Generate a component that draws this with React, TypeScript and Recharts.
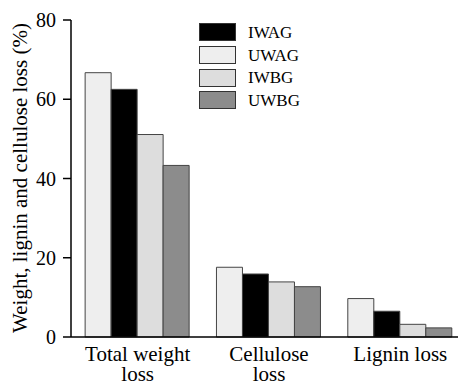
import { Bar, BarChart, Legend, XAxis, YAxis } from "recharts";

const categories = ["Total weight\nloss", "Cellulose\nloss", "Lignin loss"];
const uwag = [66.7, 17.6, 9.7];
const iwag = [62.5, 15.9, 6.5];
const iwbg = [51.1, 13.9, 3.2];
const uwbg = [43.3, 12.7, 2.3];
const yTicks = [0, 20, 40, 60, 80];

const legendItems = [
  { name: "IWAG", color: "#000000" },
  { name: "UWAG", color: "#eeeeee" },
  { name: "IWBG", color: "#dddddd" },
  { name: "UWBG", color: "#8c8c8c" },
];

const data = categories.map((name, i) => ({
  name,
  UWAG: uwag[i],
  IWAG: iwag[i],
  IWBG: iwbg[i],
  UWBG: uwbg[i],
}));

const font = "Liberation Serif, Times New Roman, serif";

function CategoryTick({ x, y, payload }: any) {
  const lines = String(payload.value).split("\n");
  return (
    <text x={x} y={y} textAnchor="middle" fontFamily={font} fontSize={21} fill="#000">
      {lines.map((line, i) => (
        <tspan key={i} x={x} dy={i === 0 ? 16 : 20}>
          {line}
        </tspan>
      ))}
    </text>
  );
}

function ValueTick({ x, y, payload }: any) {
  return (
    <text x={x} y={y} dy={7} textAnchor="end" fontFamily={font} fontSize={20} fill="#000">
      {payload.value}
    </text>
  );
}

function YLabel() {
  const cy = 178;
  const cx = 27;
  return (
    <text
      x={cx}
      y={cy}
      transform={`rotate(-90 ${cx} ${cy})`}
      textAnchor="middle"
      fontFamily={font}
      fontSize={21}
      fill="#000"
    >
      Weight, lignin and cellulose loss (%)
    </text>
  );
}

function LegendBox() {
  return (
    <div style={{ fontFamily: font, fontSize: 17, textAlign: "left" }}>
      {legendItems.map((it) => (
        <div key={it.name} style={{ display: "flex", alignItems: "center", height: 22.7 }}>
          <div
            style={{
              width: 35,
              height: 16,
              background: it.color,
              border: "1px solid #333",
              marginRight: 12,
            }}
          />
          <span style={{ lineHeight: "17px" }}>{it.name}</span>
        </div>
      ))}
    </div>
  );
}

export default function App() {
  return (
    <div style={{ position: "absolute", left: 0, top: 0, width: 458, height: 385, overflow: "hidden", background: "#fff" }}>
      <BarChart
        width={470}
        height={385}
        data={data}
        margin={{ top: 20, right: 4, bottom: 8, left: 21 }}
        barCategoryGap="10%"
        barGap={0}
      >
        <XAxis
          dataKey="name"
          interval={0}
          tickLine={false}
          axisLine={{ stroke: "#000", strokeWidth: 1.5 }}
          tick={<CategoryTick />}
          height={40}
          padding={{ left: 1, right: 0 }}
        />
        <YAxis
          domain={[0, 80]}
          ticks={yTicks}
          width={50}
          tickSize={8}
          tickMargin={7}
          axisLine={{ stroke: "#000", strokeWidth: 1.5 }}
          tickLine={{ stroke: "#000", strokeWidth: 1.5 }}
          tick={<ValueTick />}
          label={<YLabel />}
        />
        <Legend
          layout="vertical"
          align="center"
          verticalAlign="middle"
          wrapperStyle={{ left: 199, top: 21, width: 120 }}
          content={<LegendBox />}
        />
        <Bar dataKey="UWAG" fill="#eeeeee" stroke="#444" strokeWidth={1} isAnimationActive={false} />
        <Bar dataKey="IWAG" fill="#000000" stroke="#444" strokeWidth={1} isAnimationActive={false} />
        <Bar dataKey="IWBG" fill="#dddddd" stroke="#444" strokeWidth={1} isAnimationActive={false} />
        <Bar dataKey="UWBG" fill="#8c8c8c" stroke="#444" strokeWidth={1} isAnimationActive={false} />
      </BarChart>
    </div>
  );
}
